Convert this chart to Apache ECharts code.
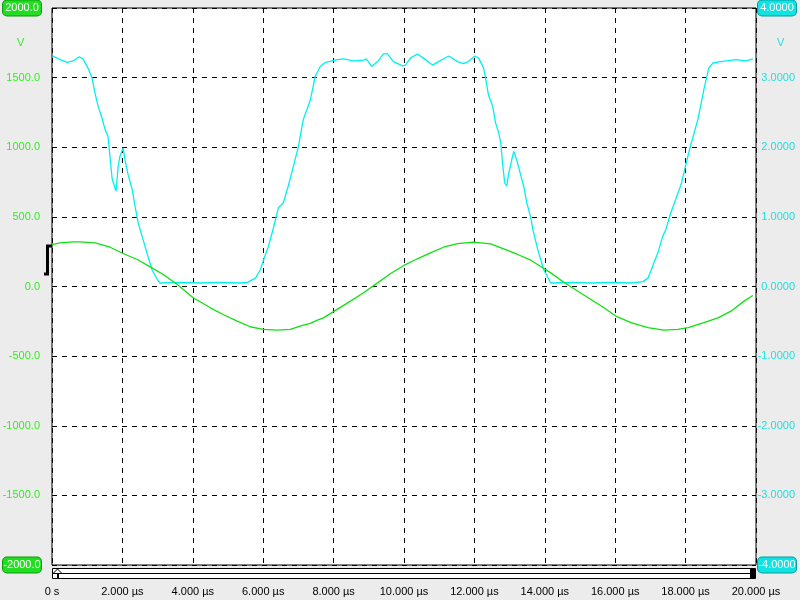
<!DOCTYPE html>
<html><head><meta charset="utf-8">
<script src="https://cdn.jsdelivr.net/npm/echarts@6/dist/echarts.min.js"></script>
<style>html,body{margin:0;padding:0;background:#ececec}#c{width:800px;height:600px}</style>
</head><body><div id="c"></div><script>
// ---- tick labels ----
const xTickLabels = ['0 s','2.000 µs','4.000 µs','6.000 µs','8.000 µs','10.000 µs','12.000 µs','14.000 µs','16.000 µs','18.000 µs','20.000 µs'];
const leftTickLabels = ['-2000.0','-1500.0','-1000.0','-500.0','0.0','500.0','1000.0','1500.0','2000.0'];
const rightTickLabels = ['-4.0000','-3.0000','-2.0000','-1.0000','0.0000','1.0000','2.0000','3.0000','4.0000'];
const unitLabel = 'V';

// ---- green trace (left axis), time in µs ----
const greenTimes = [0.00,0.23,0.60,0.80,1.22,1.65,2.02,2.42,2.79,3.16,3.56,4.01,4.50,4.86,5.26,5.63,6.00,6.40,6.77,7.14,7.34,7.54,7.71,8.02,8.48,8.85,9.25,9.62,10.01,10.38,10.75,11.12,11.52,11.98,12.46,12.83,13.23,13.60,14.02,14.17,14.54,14.94,15.31,15.68,16.05,16.45,16.93,17.38,17.78,18.07,18.52,18.92,19.29,19.66,19.91];
const greenValues = [300,313,320,320,313,282,237,194,141,86,14,-81,-153,-201,-249,-289,-308,-313,-308,-277,-265,-241,-225,-177,-105,-45,26,93,153,199,242,282,308,318,306,270,230,189,122,98,31,-34,-93,-153,-217,-260,-296,-313,-308,-296,-260,-225,-177,-105,-65];

// ---- cyan trace (right axis, V), time in µs ----
const cyanTimes = [0.02,0.23,0.43,0.60,0.77,0.88,1.02,1.14,1.22,1.31,1.42,1.51,1.59,1.65,1.71,1.82,1.88,1.93,2.02,2.08,2.16,2.28,2.36,2.45,2.56,2.70,2.84,2.99,3.07,3.64,4.21,4.78,5.35,5.55,5.78,5.92,6.03,6.15,6.29,6.43,6.57,6.71,6.86,7.00,7.14,7.34,7.48,7.62,7.77,8.11,8.28,8.56,8.85,8.93,9.08,9.25,9.42,9.53,9.70,9.96,10.04,10.18,10.38,10.55,10.81,10.98,11.27,11.52,11.69,11.83,12.01,12.12,12.26,12.32,12.40,12.52,12.60,12.69,12.75,12.80,12.86,12.92,12.97,13.06,13.12,13.20,13.29,13.40,13.49,13.60,13.66,13.80,13.97,14.17,14.74,15.31,15.87,16.44,16.79,16.93,17.01,17.10,17.21,17.35,17.44,17.58,17.87,18.04,18.15,18.35,18.52,18.66,18.78,19.00,19.43,19.72,19.91];
const cyanValues = [3.31,3.26,3.22,3.24,3.30,3.27,3.14,2.99,2.78,2.59,2.42,2.25,2.16,1.85,1.54,1.37,1.73,1.87,1.99,1.80,1.61,1.39,1.15,0.91,0.72,0.48,0.24,0.10,0.05,0.06,0.05,0.06,0.05,0.06,0.12,0.24,0.41,0.58,0.84,1.13,1.20,1.44,1.73,2.01,2.40,2.68,3.02,3.16,3.22,3.26,3.27,3.24,3.25,3.27,3.16,3.23,3.34,3.34,3.23,3.17,3.18,3.28,3.34,3.28,3.18,3.23,3.31,3.23,3.20,3.23,3.31,3.28,3.14,2.99,2.75,2.59,2.35,2.21,2.06,1.77,1.49,1.44,1.61,1.82,1.94,1.82,1.65,1.44,1.20,0.99,0.82,0.53,0.24,0.05,0.06,0.05,0.06,0.05,0.07,0.12,0.22,0.34,0.48,0.72,0.82,1.06,1.46,1.82,2.04,2.40,2.83,3.14,3.21,3.23,3.26,3.24,3.27];

const FONT = 'Liberation Sans';
const GREEN_TXT = '#33ee22';
const CYAN_TXT = '#22e0e0';

const chart = echarts.init(document.getElementById('c'), null, {renderer:'canvas'});
const G = {left:52, right:44, top:8, bottom:35};
const option = {
  backgroundColor:'#ececec',
  animation:false,
  grid:{left:G.left,right:G.right,top:G.top,bottom:G.bottom,show:true,backgroundColor:'#ffffff',borderColor:'#000',borderWidth:1,containLabel:false,outerBoundsMode:'none'},
  xAxis:{type:'value',min:0,max:20,interval:2,
    axisLine:{show:false},axisTick:{show:false},
    splitLine:{show:true,lineStyle:{color:'#000',type:[5,5],width:1}},
    axisLabel:{margin:21,color:'#000',fontFamily:FONT,fontSize:11,
      formatter:v=>xTickLabels[Math.round(v/2)]}},
  yAxis:[
    {type:'value',min:-2000,max:2000,interval:500,position:'left',
     axisLine:{show:false},axisTick:{show:false},
     splitLine:{show:true,lineStyle:{color:'#000',type:[5,5],width:1}},
     axisLabel:{margin:11,fontFamily:FONT,fontSize:11,
       formatter:v=>{const i=Math.round((v+2000)/500);const s=leftTickLabels[i];return (i===0||i===8)?'{b|'+s+'}':'{n|'+s+'}';},
       rich:{
         n:{color:GREEN_TXT,fontFamily:FONT,fontSize:11,padding:[1,1]},
         b:{color:'#fff',fontFamily:FONT,fontSize:11,backgroundColor:'#22dd22',borderColor:'#0b9a0b',borderWidth:1,borderRadius:4,padding:[2,2],width:34,align:'center'}
       }}},
    {type:'value',min:-4,max:4,interval:1,position:'right',
     axisLine:{show:false},axisTick:{show:false},splitLine:{show:false},
     axisLabel:{margin:2,fontFamily:FONT,fontSize:11,
       formatter:v=>{const i=Math.round(v+4);const s=rightTickLabels[i];return (i===0||i===8)?'{b|'+s+'}':'{n|'+s+'}';},
       rich:{
         n:{color:CYAN_TXT,fontFamily:FONT,fontSize:11,padding:[1,3,1,0],width:37,align:'right'},
         b:{color:'#fff',fontFamily:FONT,fontSize:11,backgroundColor:'#11e2e2',borderColor:'#00a0a0',borderWidth:1,borderRadius:4,padding:[2,2],width:34,align:'center'}
       }}}
  ],
  series:[
    {type:'line',yAxisIndex:1,showSymbol:false,silent:true,z:3,
     lineStyle:{color:'#00f0f0',width:1.3},
     data:cyanTimes.map((t,i)=>[t,cyanValues[i]])},
    {type:'line',yAxisIndex:0,showSymbol:false,silent:true,z:4,
     lineStyle:{color:'#10e010',width:1.3},
     data:greenTimes.map((t,i)=>[t,greenValues[i]])}
  ],
  graphic:[
    {type:'text',left:17,top:37,style:{text:unitLabel,fill:GREEN_TXT,font:'11px "'+FONT+'"'}},
    {type:'text',left:777,top:37,style:{text:unitLabel,fill:CYAN_TXT,font:'11px "'+FONT+'"'}},
    // scrollbar
    {type:'rect',shape:{x:52.5,y:568.5,width:703,height:10},style:{fill:'#fff',stroke:'#000',lineWidth:1}},
    {type:'line',shape:{x1:52.5,y1:573.5,x2:755.5,y2:573.5},style:{stroke:'#000',lineWidth:1}},
    {type:'polygon',shape:{points:[[53,573.5],[57.5,569],[62,573.5]]},style:{fill:'#fff',stroke:'#000',lineWidth:1}},
    {type:'rect',shape:{x:57,y:573,width:2,height:6},style:{fill:'#000'}},
    {type:'rect',shape:{x:750,y:568,width:5,height:11},style:{fill:'#000'}},
    // offset marker
    {type:'polyline',shape:{points:[[52,246],[47.5,246],[47.5,274],[44,274]]},style:{stroke:'#000',lineWidth:3,fill:null}}
  ]
};
chart.setOption(option);
</script></body></html>
